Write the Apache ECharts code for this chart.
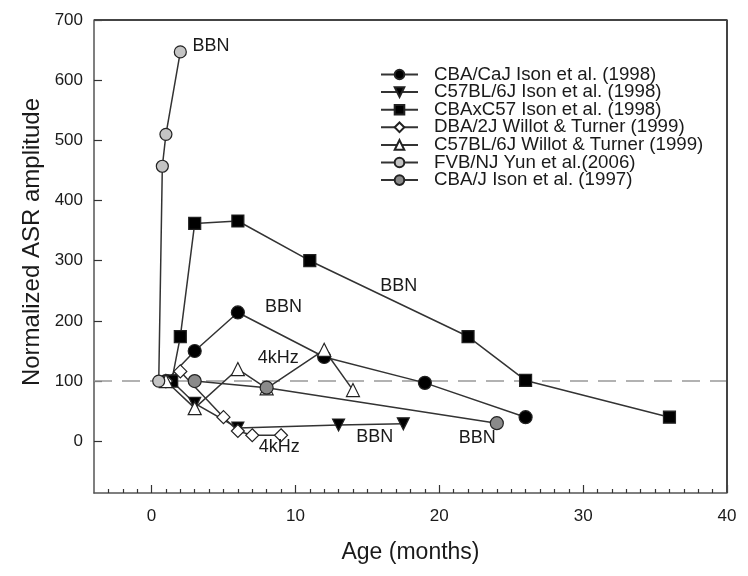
<!DOCTYPE html>
<html>
<head>
<meta charset="utf-8">
<script src="https://cdn.jsdelivr.net/npm/echarts@6/dist/echarts.min.js"></script>
<style>html,body{margin:0;padding:0;background:#fff;}#c{width:748px;height:576px;}</style>
</head>
<body>
<div id="c"></div>
<script>
// ---- data ----
const cbaCajX = [1, 3, 6, 12, 19, 26];
const cbaCajY = [100, 150, 214, 140, 97, 40];
const c57IsonX = [1.4, 3, 6, 13, 17.5];
const c57IsonY = [100, 63, 22, 27, 29];
const cbaxc57X = [1.4, 2, 3, 6, 11, 22, 26, 36];
const cbaxc57Y = [100, 174, 362, 366, 300, 174, 101, 40];
const dbaX = [1, 2, 5, 6, 7, 9];
const dbaY = [100, 116, 40, 17, 10, 10];
const c57WtX = [1, 3, 6, 8, 12, 14];
const c57WtY = [100, 55, 120, 88, 152, 85];
const fvbX = [0.5, 0.75, 1, 2];
const fvbY = [100, 457, 510, 647];
const cbaJX = [3, 8, 24];
const cbaJY = [100, 89, 30];
const seriesNames = [
  'CBA/CaJ Ison et al. (1998)',
  'C57BL/6J Ison et al. (1998)',
  'CBAxC57 Ison et al. (1998)',
  'DBA/2J Willot & Turner (1999)',
  'C57BL/6J Willot & Turner (1999)',
  'FVB/NJ Yun et al.(2006)',
  'CBA/J Ison et al. (1997)'
];
const refLevel = 100;
const annoX = [4.14, 9.18, 8.8, 17.18, 8.87, 15.51, 22.64];
const annoY = [657, 223, 138, 258, -10, 6.7, 5];
const annoText = ['BBN', 'BBN', '4kHz', 'BBN', '4kHz', 'BBN', 'BBN'];
const xMin = -4, xMax = 40, yMin = -86, yMax = 700;
const xMajorTicks = [0, 10, 20, 30, 40];
const xMinorTicks = [-3,-2,-1,1,2,3,4,5,6,7,8,9,11,12,13,14,15,16,17,18,19,21,22,23,24,25,26,27,28,29,31,32,33,34,35,36,37,38,39];
const yTicks = [0, 100, 200, 300, 400, 500, 600, 700];
// top and right edges of the plot frame (axis range corners)
const frameX = [xMin, xMax, xMax];
const frameY = [yMax, yMax, yMin];

// ---- chart ----
const zip = (xs, ys) => xs.map((x, i) => [x, ys[i]]);
const lineCol = '#333';
const FONT = 'Liberation Sans, Arial, sans-serif';
const GRID = { left: 94, right: 21, top: 20, bottom: 83 };
function mk(name, xs, ys, symbol, size, fill, extra) {
  return Object.assign({
    type: 'line', name: name, data: zip(xs, ys),
    symbol: symbol, symbolSize: size, showSymbol: true,
    lineStyle: { color: lineCol, width: 1.5 },
    itemStyle: { color: fill, borderColor: '#222', borderWidth: 1.2 },
    z: 3
  }, extra || {});
}
const series = [
  mk(seriesNames[0], cbaCajX, cbaCajY, 'circle', 13, '#000', {
    markLine: {
      silent: true, symbol: 'none', label: { show: false },
      lineStyle: { color: '#999', type: [18, 10], width: 1.5 },
      data: [{ yAxis: refLevel }], z: 1
    }
  }),
  mk(seriesNames[1], c57IsonX, c57IsonY, 'triangle', 12, '#000', { symbolRotate: 180 }),
  mk(seriesNames[2], cbaxc57X, cbaxc57Y, 'rect', 12, '#000'),
  mk(seriesNames[3], dbaX, dbaY, 'diamond', 13, '#fff'),
  mk(seriesNames[4], c57WtX, c57WtY, 'triangle', 13, '#fff'),
  mk(seriesNames[5], fvbX, fvbY, 'circle', 12, '#c4c4c4'),
  mk(seriesNames[6], cbaJX, cbaJY, 'circle', 13, '#8a8a8a'),
  {
    type: 'scatter', name: 'annotations', data: zip(annoX, annoY),
    symbolSize: 0, silent: true, z: 5,
    itemStyle: { color: '#000', opacity: 1 },
    label: {
      show: true, position: 'inside', color: '#1a1a1a', fontSize: 18, fontFamily: FONT,
      textBorderWidth: 0, opacity: 1,
      formatter: p => annoText[p.dataIndex]
    }
  },
  {
    type: 'line', name: 'frame', data: zip(frameX, frameY),
    symbol: 'none', silent: true, clip: false, z: 2,
    lineStyle: { color: '#444', width: 2 }
  }
];

const chart = echarts.init(document.getElementById('c'), null, { renderer: 'canvas' });
chart.setOption({
  animation: false,
  backgroundColor: '#fff',
  grid: GRID,
  legend: {
    data: seriesNames, orient: 'vertical', left: 380, top: 65, padding: 0,
    itemWidth: 37, itemHeight: 12, itemGap: -1.4,
    textStyle: { fontSize: 18.7, fontFamily: FONT, color: '#1a1a1a', padding: [0, 0, 0, 11] }
  },
  xAxis: [
    {
      type: 'value', min: xMin, max: xMax, position: 'bottom',
      name: 'Age (months)', nameLocation: 'middle', nameGap: 48,
      nameTextStyle: { fontSize: 23, fontFamily: FONT, color: '#1a1a1a' },
      axisLine: { show: true, onZero: false, lineStyle: { color: '#555', width: 1.5 } },
      axisTick: { show: true, inside: true, length: 8, customValues: xMajorTicks, lineStyle: { color: '#333', width: 1.2 } },
      axisLabel: { customValues: xMajorTicks, fontSize: 17, fontFamily: FONT, color: '#1a1a1a', margin: 15 },
      splitLine: { show: false }
    },
    {
      type: 'value', min: xMin, max: xMax, position: 'bottom', offset: 0,
      axisLine: { show: false, onZero: false },
      axisTick: { show: true, inside: true, length: 4, customValues: xMinorTicks, lineStyle: { color: '#333', width: 1.2 } },
      axisLabel: { show: false },
      splitLine: { show: false }
    }
  ],
  yAxis: {
    type: 'value', min: yMin, max: yMax, position: 'left',
    axisLine: { show: true, onZero: false, lineStyle: { color: '#555', width: 1.5 } },
    axisTick: { show: true, inside: true, length: 8, customValues: yTicks, lineStyle: { color: '#333', width: 1.2 } },
    axisLabel: { customValues: yTicks, fontSize: 17, fontFamily: FONT, color: '#1a1a1a', margin: 11 },
    splitLine: { show: false }
  },
  graphic: [
    {
      type: 'text', x: 32, y: 242, rotation: Math.PI / 2,
      style: { text: 'Normalized ASR amplitude', fontSize: 24, fontFamily: FONT, fill: '#1a1a1a', align: 'center', verticalAlign: 'middle' }
    }
  ],
  series: series
});
</script>
</body>
</html>
